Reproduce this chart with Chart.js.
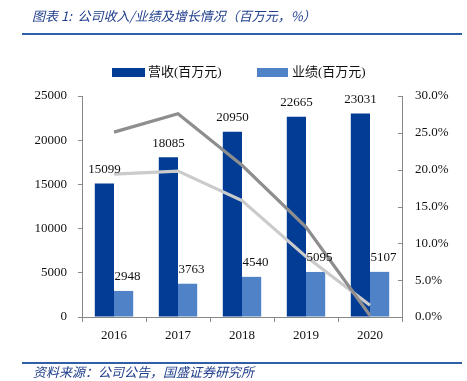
<!DOCTYPE html>
<html><head><meta charset="utf-8">
<script src="https://cdn.jsdelivr.net/npm/chart.js@4/dist/chart.umd.min.js"></script>
<style>
html,body{margin:0;padding:0;background:#fff;}
#wrap{position:relative;width:467px;height:381px;overflow:hidden;background:#fff;}
#c{position:absolute;left:0;top:0;}
.title{position:absolute;left:32px;top:8px;font:italic 13px "Noto Sans CJK SC",sans-serif;color:#1F3E8C;white-space:nowrap;line-height:16px;}
.rule{position:absolute;left:22px;width:440px;height:2px;background:#2F5FA7;}
.src{position:absolute;left:33px;top:364px;font:italic 13px "Noto Sans CJK SC",sans-serif;color:#1F3E8C;white-space:nowrap;line-height:16px;}
</style>
</head><body>
<div id="wrap">
<canvas id="c" width="467" height="381"></canvas>
<div class="title">图表 1:&nbsp; 公司收入/业绩及增长情况（百万元，%）</div>
<div class="rule" style="top:33px"></div>
<div class="rule" style="top:362px"></div>
<div class="src">资料来源：公司公告，国盛证券研究所</div>
</div>
<script>
const categories = ['2016','2017','2018','2019','2020'];
const revenue = [15099, 18085, 20950, 22665, 23031];
const profit = [2948, 3763, 4540, 5095, 5107];
const revenueGrowth = [19.4, 19.8, 15.8, 8.2, 1.6];
const profitGrowth = [25.1, 27.6, 20.6, 12.2, 0.2];
const seriesNames = ['营收(百万元)', '业绩(百万元)'];
const leftAxis = {min: 0, max: 25000, step: 5000};
const rightAxis = {min: 0, max: 30, step: 5};

const DARK = '#023C95';
const LIGHT = '#4F82C6';
const SERIF = '"Liberation Serif","Times New Roman",serif';

const barLabels = {
  id: 'barLabels',
  afterDatasetsDraw(chart) {
    const ctx = chart.ctx;
    ctx.save();
    ctx.font = '13px ' + SERIF;
    ctx.fillStyle = '#111';
    ctx.textAlign = 'center';
    ctx.textBaseline = 'middle';
    chart.data.datasets.forEach((ds, i) => {
      if (ds.type !== 'bar') return;
      const meta = chart.getDatasetMeta(i);
      const dx = ds.labelShift || 0;
      meta.data.forEach((el, j) => {
        ctx.fillText(String(ds.data[j]), el.x + dx, el.y - 14);
      });
    });
    ctx.restore();
  }
};

const extras = {
  id: 'extras',
  afterDraw(chart) {
    const ctx = chart.ctx;
    ctx.save();
    const s = chart.scales.y1;
    ctx.strokeStyle = '#888';
    ctx.lineWidth = 1;
    s.ticks.forEach(t => {
      const y = Math.round(s.getPixelForValue(t.value)) + 0.5;
      ctx.beginPath();
      ctx.moveTo(s.left - 4, y);
      ctx.lineTo(s.left, y);
      ctx.stroke();
    });
    const items = [
      {ds: 0, bx: 112, bw: 33, tx: 148},
      {ds: 1, bx: 257, bw: 31, tx: 292}
    ];
    ctx.font = '13px ' + SERIF + ',"Noto Sans CJK SC"';
    ctx.textBaseline = 'middle';
    ctx.textAlign = 'left';
    items.forEach(it => {
      const ds = chart.data.datasets.find(d => d.label === seriesNames[it.ds]);
      ctx.fillStyle = ds.backgroundColor;
      ctx.fillRect(it.bx, 68, it.bw, 9);
      ctx.fillStyle = '#111';
      ctx.fillText(ds.label, it.tx, 73);
    });
    ctx.restore();
  }
};

new Chart(document.getElementById('c'), {
  data: {
    labels: categories,
    datasets: [
      {type: 'line', label: '业绩增速', data: profitGrowth, yAxisID: 'y1', order: 0,
       borderColor: '#8E8E8E', borderWidth: 3.2, pointRadius: 0, tension: 0, fill: false},
      {type: 'line', label: '营收增速', data: revenueGrowth, yAxisID: 'y1', order: 0,
       borderColor: '#CBCBCB', borderWidth: 3.2, pointRadius: 0, tension: 0, fill: false},
      {type: 'bar', label: seriesNames[0], data: revenue, yAxisID: 'y', order: 1,
       backgroundColor: DARK, borderWidth: 0, categoryPercentage: 0.6, barPercentage: 1, labelShift: 0},
      {type: 'bar', label: seriesNames[1], data: profit, yAxisID: 'y', order: 1,
       backgroundColor: LIGHT, borderWidth: 0, categoryPercentage: 0.6, barPercentage: 1, labelShift: 4}
    ]
  },
  options: {
    responsive: false,
    animation: false,
    layout: {padding: {left: 12, right: 2, top: 96, bottom: 40}},
    plugins: {legend: {display: false}, tooltip: {enabled: false}},
    scales: {
      x: {
        grid: {display: true, drawOnChartArea: false, drawTicks: true, tickLength: 5, color: '#888', offset: true},
        border: {display: true, color: '#888', width: 1},
        ticks: {font: {family: SERIF, size: 13}, color: '#111', padding: 6, maxRotation: 0},
        afterFit(s) { s.height = 24; }
      },
      y: {
        position: 'left',
        min: leftAxis.min, max: leftAxis.max,
        grid: {display: true, drawOnChartArea: false, drawTicks: true, tickLength: 4, color: '#888'},
        border: {display: true, color: '#888', width: 1},
        ticks: {stepSize: leftAxis.step, font: {family: SERIF, size: 13}, color: '#111', padding: 11,
                callback: v => String(v)},
        afterFit(s) { s.width = 70; }
      },
      y1: {
        position: 'right',
        min: rightAxis.min, max: rightAxis.max,
        grid: {display: true, drawOnChartArea: false, drawTicks: false, color: '#888'},
        border: {display: true, color: '#888', width: 1},
        ticks: {stepSize: rightAxis.step, font: {family: SERIF, size: 13}, color: '#111', padding: 13,
                callback: v => Number(v).toFixed(1) + '%'},
        afterFit(s) { s.width = 63; }
      }
    }
  },
  plugins: [barLabels, extras]
});
</script>
</body></html>
